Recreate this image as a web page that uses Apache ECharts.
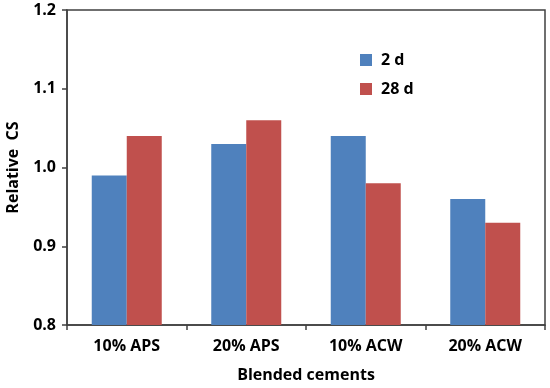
<!DOCTYPE html>
<html>
<head>
<meta charset="utf-8">
<script src="https://cdn.jsdelivr.net/npm/echarts@6/dist/echarts.min.js"></script>
<style>html,body{margin:0;padding:0;background:#fff}#c{width:550px;height:388px}</style>
</head>
<body>
<div id="c"></div>
<script>
var categories = ['10% APS', '20% APS', '10% ACW', '20% ACW'];
var seriesNames = ['2 d', '28 d'];
var values2d = [0.99, 1.03, 1.04, 0.96];
var values28d = [1.04, 1.06, 0.98, 0.93];
var yTicks = [0.8, 0.9, 1.0, 1.1, 1.2];

var font = 'Open Sans';
var fs = 16;
var chart = echarts.init(document.getElementById('c'));
chart.setOption({
  animation: false,
  backgroundColor: '#fff',
  grid: { left: 67, top: 10, right: 5, bottom: 63, containLabel: false, outerBoundsMode: 'none',
          show: true, borderColor: '#404040', borderWidth: 1.5, backgroundColor: 'transparent' },
  legend: {
    data: seriesNames,
    orient: 'vertical',
    left: 355, top: 47,
    itemWidth: 12, itemHeight: 12, itemGap: 13,
    textStyle: { fontFamily: font, fontWeight: 'bold', fontSize: fs, color: '#000', padding: [0, 0, 0, 4] },
    icon: 'rect'
  },
  xAxis: {
    type: 'category',
    data: categories,
    name: 'Blended cements',
    nameLocation: 'middle',
    nameGap: 42,
    nameTextStyle: { fontFamily: font, fontWeight: 'bold', fontSize: fs, color: '#000' },
    axisLine: { lineStyle: { color: '#404040', width: 1.5 } },
    axisTick: { show: true, length: 5, lineStyle: { color: '#404040', width: 1.5 } },
    axisLabel: { fontFamily: font, fontWeight: 'bold', fontSize: fs, color: '#000', margin: 13 }
  },
  yAxis: {
    type: 'value',
    min: 0.8, max: 1.2, interval: 0.1,
    name: 'Relative  CS',
    nameLocation: 'middle',
    nameGap: 46,
    nameRotate: 90,
    nameTextStyle: { fontFamily: font, fontWeight: 'bold', fontSize: fs, color: '#000' },
    axisLine: { show: true, lineStyle: { color: '#404040', width: 1.5 } },
    axisTick: { show: true, length: 5, lineStyle: { color: '#404040', width: 1.5 } },
    splitLine: { show: false },
    axisLabel: { fontFamily: font, fontWeight: 'bold', fontSize: fs, color: '#000', margin: 11,
      formatter: function (v) { return v.toFixed(1); } }
  },
  series: [
    { name: seriesNames[0], type: 'bar', data: values2d, barWidth: 35, barGap: '0%', itemStyle: { color: '#4F81BD' } },
    { name: seriesNames[1], type: 'bar', data: values28d, barWidth: 35, barGap: '0%', itemStyle: { color: '#C0504D' } }
  ]
});
</script>
</body>
</html>
